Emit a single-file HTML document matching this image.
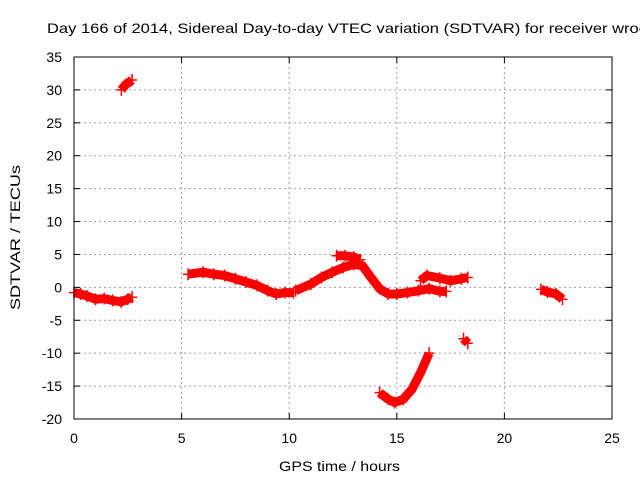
<!DOCTYPE html>
<html><head><meta charset="utf-8"><style>
body{margin:0;background:#fff}
svg{display:block;font-family:"Liberation Sans",sans-serif}
</style></head><body>
<svg id="c" width="640" height="480">
<text x="47" y="33" font-size="14" textLength="600" lengthAdjust="spacingAndGlyphs">Day 166 of 2014, Sidereal Day-to-day VTEC variation (SDTVAR) for receiver wroc</text>
<text x="279" y="471" font-size="14" textLength="121" lengthAdjust="spacingAndGlyphs">GPS time / hours</text>
<text transform="translate(20,310) rotate(-90)" font-size="14" textLength="145" lengthAdjust="spacingAndGlyphs">SDTVAR / TECUs</text>
<g id="grid"></g><g id="ticks"></g><g id="marks"></g>
<rect x="74" y="57" width="538" height="362" fill="none" stroke="#000"/>
</svg>
<script>
const xTicks=[0,5,10,15,20,25];
const yTicks=[35,30,25,20,15,10,5,0,-5,-10,-15,-20];
const seg1=[[0,-0.8],[0.3,-1],[0.6,-1.3],[1,-1.8],[1.4,-1.7],[1.8,-2.0],[2.2,-2.2],[2.5,-1.8],[2.7,-1.5]];
const seg2=[[2.2,30],[2.4,30.8],[2.7,31.5]];
const seg3=[[5.3,2.0],[6,2.3],[6.5,2.0],[7,1.8],[7.5,1.3],[8,0.8],[8.5,0.3],[9,-0.5],[9.4,-1.0],[9.8,-0.8],[10.2,-0.8]];
const seg4=[[10.3,-0.5],[11,0.5],[11.5,1.5],[12,2.3],[12.5,3.0],[13,3.5],[13.4,3.3],[13.8,1.5],[14.2,-0.2],[14.6,-1.0],[15,-1.0],[15.5,-0.8],[16,-0.5],[16.5,-0.2],[17,-0.6],[17.3,-0.6]];
const seg4b=[[12.2,4.8],[12.6,4.8],[13,4.6],[13.3,4.2]];
const seg5=[[16.1,1.0],[16.4,1.8],[17,1.4],[17.5,1.0],[18,1.3],[18.3,1.5]];
const seg6=[[14.2,-16],[14.6,-17],[14.9,-17.5],[15.3,-17],[15.7,-15.5],[16.1,-13],[16.5,-10]];
const seg7=[[18.1,-7.8],[18.3,-8.5]];
const seg8=[[21.7,-0.3],[22,-0.7],[22.4,-1.0],[22.7,-1.8]];
const segments=[seg1,seg2,seg3,seg4,seg4b,seg5,seg6,seg7,seg8];
const NS="http://www.w3.org/2000/svg";
const X=v=>74+v*538/25, Y=v=>57+(35-v)*362/55;
function mk(t,a,p){const e=document.createElementNS(NS,t);for(const k in a)e.setAttribute(k,a[k]);p.appendChild(e);return e;}
const g=document.getElementById('grid'),tk=document.getElementById('ticks'),m=document.getElementById('marks');
xTicks.forEach(v=>{
 if(v>0&&v<25){const l=mk('line',{x1:X(v),x2:X(v),y1:57,y2:419,stroke:'#a0a0a0','stroke-dasharray':'2,3'},g);
 }
 mk('line',{x1:X(v),x2:X(v),y1:419,y2:413,stroke:'#000'},tk);mk('line',{x1:X(v),x2:X(v),y1:57,y2:63,stroke:'#000'},tk);
 const t=mk('text',{x:X(v),y:443,'font-size':14,'text-anchor':'middle'},tk);t.textContent=v;
 
});
yTicks.forEach(v=>{
 if(v<35&&v>-20){const l=mk('line',{x1:74,x2:612,y1:Y(v),y2:Y(v),stroke:'#a0a0a0','stroke-dasharray':'2,3'},g);
 }
 mk('line',{x1:74,x2:80,y1:Y(v),y2:Y(v),stroke:'#000'},tk);mk('line',{x1:612,x2:606,y1:Y(v),y2:Y(v),stroke:'#000'},tk);
 const t=mk('text',{x:62,y:Y(v)+5,'font-size':14,'text-anchor':'end'},tk);t.textContent=v;
 
});
segments.forEach(s=>{
 const p=mk('polyline',{points:s.map(d=>X(d[0])+','+Y(d[1])).join(' '),fill:'none',stroke:'#f00','stroke-width':9,'stroke-linejoin':'round'},m);
 
 s.forEach(d=>{const c=mk('path',{d:`M${X(d[0])-5},${Y(d[1])}h10M${X(d[0])},${Y(d[1])-6}v12`,stroke:'#f00','stroke-width':1.5},m);
 });
});
</script>
</body></html>
